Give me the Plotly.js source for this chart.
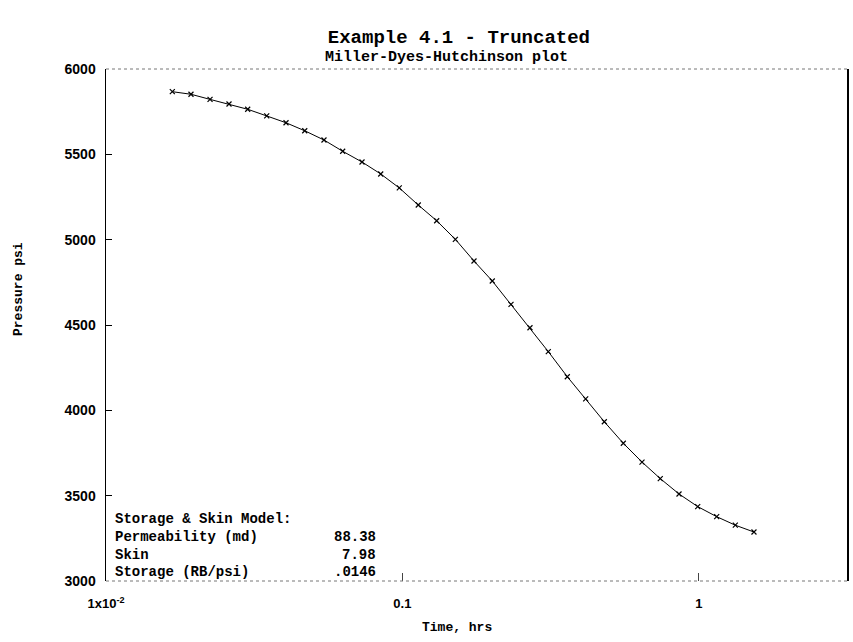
<!DOCTYPE html>
<html>
<head>
<meta charset="utf-8">
<script src="https://cdn.plot.ly/plotly-3.0.1.min.js"></script>
<style>html,body{margin:0;padding:0;background:#fff;}#chart{width:853px;height:642px;}</style>
</head>
<body>
<div id="chart"></div>
<script>
// Data
const timeHrs = [0.01674, 0.01935, 0.02244, 0.0260, 0.03006, 0.03485, 0.04049, 0.04683,
  0.05438, 0.06288, 0.07307, 0.08449, 0.09761, 0.1131, 0.1305, 0.1509,
  0.1744, 0.2010, 0.2325, 0.2694, 0.3106, 0.3600, 0.4153, 0.4800,
  0.5563, 0.6433, 0.7413, 0.8574, 0.9915, 1.149, 1.328, 1.535];
const pressurePsi = [5867, 5852, 5822, 5795, 5764, 5725, 5685, 5638,
  5584, 5518, 5455, 5385, 5303, 5203, 5111, 5002,
  4875, 4758, 4621, 4484, 4344, 4197, 4067, 3933,
  3807, 3697, 3600, 3510, 3436, 3377, 3327, 3287];
const xTickVals = [0.01, 0.1, 1];
const xTickText = ['<b>1x10<sup>-2</sup></b>', '<b>0.1</b>', '<b>1</b>'];
const yTickVals = [3000, 3500, 4000, 4500, 5000, 5500, 6000];
const yTickText = ['<b>3000</b>', '<b>3500</b>', '<b>4000</b>', '<b>4500</b>', '<b>5000</b>', '<b>5500</b>', '<b>6000</b>'];
const modelLabels = ['Permeability (md)', 'Skin', 'Storage (RB/psi)'];
const modelValues = ['88.38', '7.98', '.0146'];
const modelTitle = 'Storage & Skin Model:';

const mono = 'Liberation Mono, Courier New, monospace';
const sans = 'Liberation Sans, Arial, sans-serif';

const trace = {
  x: timeHrs, y: pressurePsi, type: 'scatter', mode: 'lines+markers',
  line: {color: '#000', width: 1},
  marker: {symbol: 'x-thin', size: 5, line: {color: '#000', width: 1.2}, color: '#000'},
  hoverinfo: 'x+y', showlegend: false
};

const annotations = [];
annotations.push({xref: 'paper', yref: 'paper', x: 0.01, y: 0.122, xanchor: 'left', yanchor: 'middle',
  text: '<b>' + modelTitle.replace('&', '&amp;') + '</b>', showarrow: false, font: {family: mono, size: 14, color: '#000'}});
modelLabels.forEach((lab, i) => {
  const yy = 0.085 - i * 0.034;
  annotations.push({xref: 'paper', yref: 'paper', x: 0.01, y: yy, xanchor: 'left', yanchor: 'middle',
    text: '<b>' + lab + '</b>', showarrow: false, font: {family: mono, size: 14, color: '#000'}});
  annotations.push({xref: 'paper', yref: 'paper', x: 0.367, y: yy, xanchor: 'right', yanchor: 'middle',
    text: '<b>' + modelValues[i] + '</b>', showarrow: false, font: {family: mono, size: 14, color: '#000'}});
});
// subtitle
annotations.push({xref: 'paper', yref: 'paper', x: 0.46, y: 1.023, xanchor: 'center', yanchor: 'middle',
  text: '<b>Miller-Dyes-Hutchinson plot</b>', showarrow: false, font: {family: mono, size: 15, color: '#000'}});
// axis titles
annotations.push({xref: 'paper', yref: 'paper', x: 0.474, y: -0.09, xanchor: 'center', yanchor: 'middle',
  text: '<b>Time, hrs</b>', showarrow: false, font: {family: mono, size: 13, color: '#000'}});
annotations.push({xref: 'paper', yref: 'paper', x: -0.119, y: 0.57, xanchor: 'center', yanchor: 'middle',
  text: '<b>Pressure psi</b>', textangle: -90, showarrow: false, font: {family: mono, size: 13, color: '#000'}});

const layout = {
  width: 853, height: 642,
  margin: {l: 106, r: 6, t: 69, b: 61},
  paper_bgcolor: '#fff', plot_bgcolor: '#fff',
  title: {text: '<b>Example 4.1 - Truncated</b>', font: {family: mono, size: 19, color: '#000'},
    x: 0.538, xanchor: 'center', y: 0.943, yanchor: 'middle'},
  xaxis: {
    type: 'log', range: [-2, 0.5],
    tickvals: xTickVals, ticktext: xTickText,
    ticks: 'inside', ticklen: 8, tickcolor: '#444', tickwidth: 1,
    showgrid: false, zeroline: false, showline: false,
    tickfont: {family: sans, size: 13, color: '#000'},
    ticklabelstandoff: 13
  },
  yaxis: {
    range: [3000, 6000],
    tickvals: yTickVals, ticktext: yTickText,
    ticks: 'inside', ticklen: 6, tickcolor: '#000', tickwidth: 1,
    showgrid: false, zeroline: false,
    showline: true, linecolor: '#000', linewidth: 1.5, mirror: true,
    tickfont: {family: sans, size: 14, color: '#000'},
    ticklabelstandoff: 6
  },
  shapes: [
    {type: 'line', xref: 'paper', yref: 'paper', x0: 0, x1: 1, y0: 0, y1: 0,
      line: {color: '#777', width: 1, dash: 'dot'}},
    {type: 'line', xref: 'paper', yref: 'paper', x0: 0, x1: 1, y0: 1, y1: 1,
      line: {color: '#777', width: 1, dash: 'dot'}}
  ],
  annotations: annotations
};

Plotly.newPlot('chart', [trace], layout, {displayModeBar: false, staticPlot: true});
</script>
</body>
</html>
